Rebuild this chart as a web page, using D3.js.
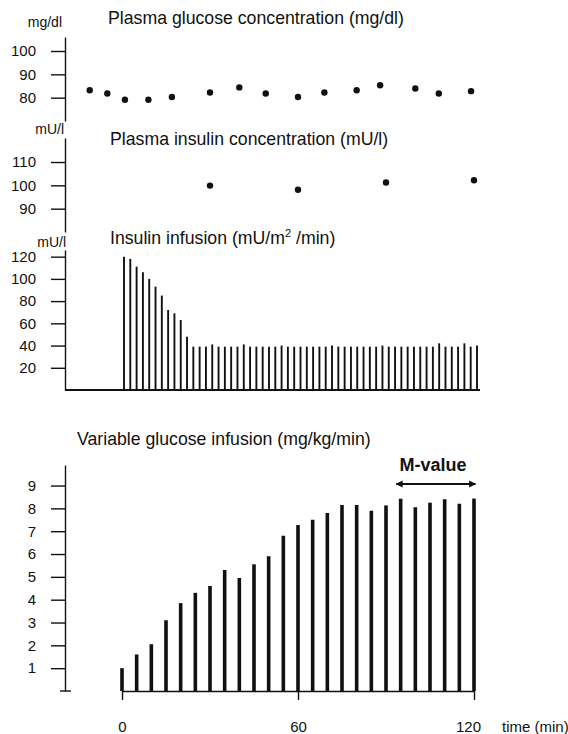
<!DOCTYPE html>
<html>
<head>
<meta charset="utf-8">
<title>Clamp</title>
<script src="https://cdnjs.cloudflare.com/ajax/libs/d3/7.8.5/d3.min.js"></script>
<style>
body { margin: 0; background: #fff; }
svg { font-family: "Liberation Sans", Arial, sans-serif; }
.axis path, .axis line { stroke: #111; stroke-width: 1.4px; }
.axis text { font-size: 15px; fill: #111; }
.title { font-size: 17.7px; fill: #111; }
.unit { font-size: 14px; fill: #111; }
</style>
</head>
<body>
<script>
// plasma glucose (mg/dl), sampled time in min
var glucoseTimes = [-11, -5, 1, 9, 17, 30, 40, 49, 60, 69, 80, 88, 100, 108, 119];
var glucoseValues = [83.2, 81.8, 79.1, 79.1, 80.3, 82.2, 84.4, 81.8, 80.3, 82.2, 83.2, 85.3, 83.9, 81.8, 82.8];

// plasma insulin (mU/l)
var insulinTimes = [30, 60, 90, 120];
var insulinValues = [99.9, 98.1, 101.2, 102.2];

// insulin infusion (mU/m2/min), one spike per pulse
var infusionValues = [120, 118, 111, 106, 100, 93, 85, 72, 69, 63, 48, 39,
  39, 39, 41, 39, 39, 39, 39, 41, 39, 39, 39, 39, 39, 40, 39, 39, 39, 39,
  39, 39, 39, 40, 39, 39, 39, 39, 39, 39, 39, 40, 39, 39, 39, 39, 39, 39,
  39, 39, 42, 39, 39, 39, 42, 39, 40];

// variable glucose infusion (mg/kg/min), every 5 min
var girTimes = [0, 5, 10, 15, 20, 25, 30, 35, 40, 45, 50, 55, 60, 65, 70, 75, 80, 85, 90, 95, 100, 105, 110, 115, 120];
var girValues = [1.0, 1.6, 2.05, 3.1, 3.85, 4.3, 4.6, 5.3, 4.95, 5.55, 5.9, 6.8, 7.27, 7.5, 7.8, 8.15, 8.15, 7.9, 8.13, 8.42, 8.05, 8.25, 8.4, 8.2, 8.43];

var glucoseTicks = [80, 90, 100];
var insulinTicks = [90, 100, 110];
var infusionTicks = [20, 40, 60, 80, 100, 120];
var girTicks = [1, 2, 3, 4, 5, 6, 7, 8, 9];
var timeTicks = [0, 60, 120];

var width = 568, height = 734;
var axisX = 65;

var svg = d3.select("body").append("svg")
  .attr("width", width)
  .attr("height", height);

svg.append("rect").attr("width", width).attr("height", height).attr("fill", "#fff");

var x = d3.scaleLinear().domain([0, 120]).range([122, 474]);

function leftAxis(scale, ticks) {
  var g = svg.append("g")
    .attr("class", "axis")
    .attr("transform", "translate(" + axisX + ",0)")
    .call(d3.axisLeft(scale).tickValues(ticks).tickSize(14).tickSizeOuter(0).tickPadding(15));
  return g;
}

// --- plasma glucose
var yGlu = d3.scaleLinear().domain([70, 106]).range([121, 37]);
leftAxis(yGlu, glucoseTicks);
svg.append("text").attr("class", "unit").attr("x", 62).attr("y", 27).attr("text-anchor", "end").text("mg/dl");
svg.append("text").attr("class", "title").attr("x", 108).attr("y", 24).text("Plasma glucose concentration (mg/dl)");
svg.selectAll(".glu").data(glucoseValues).enter().append("circle")
  .attr("cx", function(d, i) { return x(glucoseTimes[i]); })
  .attr("cy", function(d) { return yGlu(d); })
  .attr("r", 3.2)
  .attr("fill", "#111");

// --- plasma insulin
var yIns = d3.scaleLinear().domain([80, 120.3]).range([232, 138]);
leftAxis(yIns, insulinTicks);
svg.append("text").attr("class", "unit").attr("x", 64).attr("y", 134).attr("text-anchor", "end").text("mU/l");
svg.append("text").attr("class", "title").attr("x", 110).attr("y", 145).text("Plasma insulin concentration (mU/l)");
svg.selectAll(".ins").data(insulinValues).enter().append("circle")
  .attr("cx", function(d, i) { return x(insulinTimes[i]); })
  .attr("cy", function(d) { return yIns(d); })
  .attr("r", 3.2)
  .attr("fill", "#111");

// --- insulin infusion
var yInf = d3.scaleLinear().domain([0, 126]).range([390, 250]);
leftAxis(yInf, infusionTicks);
var xInf = d3.scalePoint().domain(d3.range(infusionValues.length)).range([124, 477]);
svg.append("text").attr("class", "unit").attr("x", 66).attr("y", 247).attr("text-anchor", "end").text("mU/l");
var infTitle = svg.append("text").attr("class", "title").attr("x", 110).attr("y", 244);
infTitle.append("tspan").text("Insulin infusion (mU/m");
infTitle.append("tspan").attr("dy", -7).style("font-size", "11px").text("2");
infTitle.append("tspan").attr("dy", 7).text(" /min)");
svg.append("line")
  .attr("x1", axisX).attr("x2", 480)
  .attr("y1", yInf(0)).attr("y2", yInf(0))
  .attr("stroke", "#111").attr("stroke-width", 1.8);
svg.selectAll(".inf").data(infusionValues).enter().append("line")
  .attr("x1", function(d, i) { return xInf(i); })
  .attr("x2", function(d, i) { return xInf(i); })
  .attr("y1", yInf(0))
  .attr("y2", function(d) { return yInf(d); })
  .attr("stroke", "#111")
  .attr("stroke-width", 1.9);

// --- variable glucose infusion
var yGir = d3.scaleLinear().domain([0, 9.9]).range([691, 465]);
leftAxis(yGir, girTicks);
svg.append("line")
  .attr("x1", axisX - 5).attr("x2", axisX + 6)
  .attr("y1", yGir(0)).attr("y2", yGir(0))
  .attr("stroke", "#111").attr("stroke-width", 1.4);
svg.append("text").attr("class", "title").attr("x", 77).attr("y", 445).text("Variable glucose infusion (mg/kg/min)");

var xAxis = svg.append("g")
  .attr("class", "axis")
  .attr("transform", "translate(0," + yGir(0) + ")")
  .call(d3.axisBottom(x).tickValues(timeTicks).tickSize(9).tickSizeOuter(0).tickPadding(21));
xAxis.selectAll(".tick text").filter(function(d) { return d === 120; }).attr("dx", -6);
svg.append("text").attr("x", 502).attr("y", 732)
  .style("font-size", "15px").attr("fill", "#111").text("time (min)");

svg.selectAll(".gir").data(girValues).enter().append("line")
  .attr("x1", function(d, i) { return x(girTimes[i]); })
  .attr("x2", function(d, i) { return x(girTimes[i]); })
  .attr("y1", yGir(0))
  .attr("y2", function(d) { return yGir(d); })
  .attr("stroke", "#111")
  .attr("stroke-width", 3.6);

// M-value arrow over the last 30 min
svg.append("defs").append("marker")
  .attr("id", "head")
  .attr("viewBox", "0 0 10 10")
  .attr("refX", 9).attr("refY", 5)
  .attr("markerWidth", 6).attr("markerHeight", 3.2)
  .attr("orient", "auto-start-reverse")
  .append("path").attr("d", "M0,0L10,5L0,10z").attr("fill", "#111");
svg.append("line")
  .attr("x1", x(93.5)).attr("x2", x(120.5))
  .attr("y1", 484).attr("y2", 484)
  .attr("stroke", "#111").attr("stroke-width", 2.2)
  .attr("marker-start", "url(#head)")
  .attr("marker-end", "url(#head)");
svg.append("text")
  .attr("x", x(106)).attr("y", 471)
  .attr("text-anchor", "middle")
  .style("font-size", "18px").style("font-weight", "bold").attr("fill", "#111")
  .text("M-value");
</script>
</body>
</html>
